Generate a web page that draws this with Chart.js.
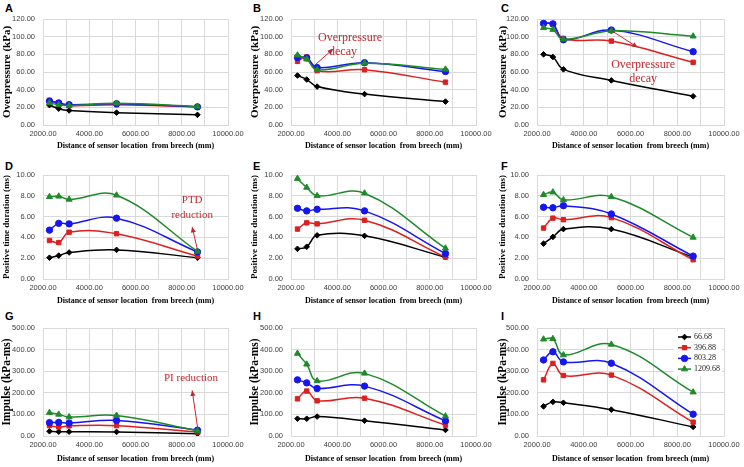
<!DOCTYPE html>
<html>
<head>
<meta charset="utf-8">
<script src="https://cdn.jsdelivr.net/npm/chart.js@4.4.0/dist/chart.umd.min.js"></script>
<style>
  body { margin: 0; background: #fff; width: 744px; height: 467px; position: relative; overflow: hidden; }
  canvas { position: absolute; }
  .tag { position: absolute; font: bold 11px "Liberation Sans", Arial, sans-serif; line-height: 12px; color: #000; }
</style>
</head>
<body>
<script>
"use strict";

// sensor positions (mm) and charge series
const distances = [2280, 2680, 3130, 5180, 8680];
const seriesNames = ['66.68', '396.88', '803.28', '1209.68'];
const xTicks = [2000, 4000, 6000, 8000, 10000];

// overpressure (kPa), rows = series
const overpressureA = [[22.5, 18.5, 16.5, 14.0, 11.5], [28.0, 24.5, 22.0, 23.0, 20.5], [27.0, 25.0, 23.0, 24.0, 20.5], [25.0, 23.0, 22.0, 24.5, 21.0]];
const overpressureB = [[56.0, 51.5, 43.5, 35.0, 26.5], [72.0, 77.0, 61.5, 62.5, 48.5], [76.5, 76.0, 65.0, 70.5, 60.5], [79.0, 74.5, 62.5, 70.0, 63.0]];
const overpressureC = [[80.0, 77.0, 63.0, 50.5, 32.5], [115.0, 114.0, 98.0, 95.0, 71.0], [115.0, 114.5, 96.5, 107.5, 83.0], [110.0, 108.0, 97.0, 106.5, 100.5]];

// positive time duration (ms)
const durationD = [[2.05, 2.25, 2.55, 2.80, 2.05], [3.70, 3.50, 4.50, 4.35, 2.20], [4.70, 5.35, 5.30, 5.85, 2.60], [7.90, 7.95, 7.65, 8.05, 2.65]];
const durationE = [[2.90, 3.10, 4.20, 4.15, 2.10], [4.80, 5.40, 5.30, 5.65, 2.10], [6.80, 6.55, 6.70, 6.55, 2.45], [9.65, 8.80, 8.00, 8.25, 2.95]];
const durationF = [[3.40, 4.05, 4.80, 4.80, 2.10], [4.90, 5.85, 5.70, 5.90, 1.85], [6.90, 6.85, 7.05, 6.25, 2.20], [8.10, 8.35, 7.60, 7.90, 4.00]];

// impulse (kPa-ms)
const impulseG = [[22, 20, 20, 19, 10], [48, 42, 47, 48, 18], [62, 63, 60, 72, 27], [108, 100, 88, 95, 24]];
const impulseH = [[80, 80, 90, 71, 28], [172, 208, 163, 175, 50], [260, 246, 220, 231, 70], [382, 332, 255, 290, 92]];
const impulseI = [[137, 158, 154, 122, 42], [260, 336, 280, 282, 64], [352, 390, 343, 337, 101], [448, 450, 375, 424, 203]];

const colors = ['#000000', '#dd1f1f', '#1616f0', '#1f8a2a'];
const markers = ['rectRot', 'rect', 'circle', 'triangle'];
const markerSize = [2.8, 3.1, 3.2, 3.5];
const noteRed = '#c0282d';

// red annotations, in data units: texts [x, y, text, size], arrows [x1, y1, x2, y2]
const panelNotes = {
  B: { texts: [[4550, 98.5, 'Overpressure', 12], [4250, 83, 'decay', 12]], arrows: [[3040, 68, 3820, 86]] },
  C: { texts: [[6540, 68, 'Overpressure', 12], [6540, 52.5, 'decay', 12]], arrows: [[5180, 107, 6300, 88]] },
  D: { texts: [[8450, 7.6, 'PTD', 11], [8450, 6.15, 'reduction', 11]], arrows: [[8700, 2.6, 8450, 5.0]] },
  G: { texts: [[8400, 266, 'PI reduction', 11]], arrows: [[8700, 28, 8450, 211]] }
};

const rows = [
  { boxY: 0, boxH: 150, top: 19, bottom: 125, title: 'Overpressure (kPa)', tSize: 11, tPad: 1.5, max: 120, step: 20, padB: 0 },
  { boxY: 150, boxH: 155, top: 175, bottom: 279, title: 'Positive time duration (ms)', tSize: 9, tPad: 2.5, max: 10, step: 2, padB: 0 },
  { boxY: 305, boxH: 162, top: 328, bottom: 436, title: 'Impulse (kPa-ms)', tSize: 11.5, tPad: 1.2, max: 500, step: 100, padB: 4 }
];
const cols = [
  { boxX: 0, left: 43, right: 228 },
  { boxX: 248, left: 291, right: 476 },
  { boxX: 496, left: 537, right: 724 }
];

const panels = [
  ['A', overpressureA], ['B', overpressureB], ['C', overpressureC],
  ['D', durationD], ['E', durationE], ['F', durationF],
  ['G', impulseG], ['H', impulseH], ['I', impulseI]
];

const notesPlugin = {
  id: 'notes',
  afterDatasetsDraw(chart) {
    const n = panelNotes[chart.canvas.id];
    if (!n) return;
    const { ctx, scales: { x, y } } = chart;
    ctx.save();
    ctx.strokeStyle = noteRed;
    ctx.fillStyle = noteRed;
    ctx.lineWidth = 1;
    n.arrows.forEach(a => {
      const x1 = x.getPixelForValue(a[0]), y1 = y.getPixelForValue(a[1]);
      const x2 = x.getPixelForValue(a[2]), y2 = y.getPixelForValue(a[3]);
      ctx.beginPath(); ctx.moveTo(x1, y1); ctx.lineTo(x2, y2); ctx.stroke();
      const ang = Math.atan2(y2 - y1, x2 - x1);
      ctx.beginPath();
      ctx.moveTo(x2, y2);
      ctx.lineTo(x2 - 6 * Math.cos(ang - 0.45), y2 - 6 * Math.sin(ang - 0.45));
      ctx.lineTo(x2 - 6 * Math.cos(ang + 0.45), y2 - 6 * Math.sin(ang + 0.45));
      ctx.closePath(); ctx.fill();
    });
    ctx.textAlign = 'center';
    ctx.textBaseline = 'middle';
    n.texts.forEach(t => {
      ctx.font = t[3] + 'px "Liberation Serif", "Times New Roman", serif';
      ctx.fillText(t[2], x.getPixelForValue(t[0]), y.getPixelForValue(t[1]));
    });
    ctx.restore();
  }
};

// legend only sits inside panel I
const legendPlugin = {
  id: 'boxLegend',
  afterDraw(chart) {
    if (chart.canvas.id !== 'I') return;
    const ctx = chart.ctx;
    ctx.save();
    ctx.fillStyle = '#fff';
    ctx.fillRect(178, 26, 48, 45);
    ctx.font = '8px "Liberation Serif", "Times New Roman", serif';
    ctx.textBaseline = 'middle';
    chart.data.datasets.forEach((ds, i) => {
      const yy = 32 + i * 10.7;
      ctx.strokeStyle = ds.borderColor;
      ctx.fillStyle = ds.borderColor;
      ctx.lineWidth = 1.5;
      ctx.beginPath(); ctx.moveTo(182, yy); ctx.lineTo(195, yy); ctx.stroke();
      ctx.lineWidth = 1;
      Chart.helpers.drawPoint(ctx, { pointStyle: ds.pointStyle, radius: ds.pointRadius, borderWidth: 1, rotation: 0 }, 188.5, yy);
      ctx.fillStyle = '#222';
      ctx.fillText(ds.label, 198, yy);
    });
    ctx.restore();
  }
};

panels.forEach(([name, values], idx) => {
  const row = rows[Math.floor(idx / 3)];
  const col = cols[idx % 3];

  const tag = document.createElement('div');
  tag.className = 'tag';
  tag.textContent = name;
  tag.style.left = (col.boxX + 5) + 'px';
  tag.style.top = (row.boxY + (idx < 3 ? 2 : idx < 6 ? 10 : 5)) + 'px';
  document.body.appendChild(tag);

  const canvas = document.createElement('canvas');
  canvas.id = name;
  canvas.width = 248;
  canvas.height = row.boxH;
  canvas.style.left = col.boxX + 'px';
  canvas.style.top = row.boxY + 'px';
  document.body.appendChild(canvas);

  const datasets = values.map((vals, i) => ({
    label: seriesNames[i],
    data: distances.map((d, j) => ({ x: d, y: vals[j] })),
    borderColor: colors[i],
    backgroundColor: colors[i],
    pointStyle: markers[i],
    pointRadius: markerSize[i],
    pointBorderWidth: 1,
    borderWidth: 1.5,
    tension: 0.4,
    order: 3 - i
  }));

  new Chart(canvas, {
    type: 'line',
    data: { datasets },
    plugins: [notesPlugin, legendPlugin],
    options: {
      responsive: false,
      animation: false,
      devicePixelRatio: 1,
      layout: {
        padding: { left: 0, top: row.top - row.boxY, right: col.boxX + 248 - col.right, bottom: row.padB }
      },
      plugins: { legend: { display: false }, tooltip: { enabled: false } },
      scales: {
        x: {
          type: 'linear',
          min: 2000,
          max: 10000,
          afterFit: s => { s.height = row.boxY + row.boxH - row.padB - row.bottom; },
          ticks: {
            stepSize: 1000,
            autoSkip: false,
            maxRotation: 0,
            minRotation: 0,
            padding: 4,
            color: '#404040',
            font: { family: '"Liberation Sans", Arial, sans-serif', size: 7.5 },
            callback: v => (xTicks.includes(v) ? v.toFixed(2) : '')
          },
          grid: { color: '#d9d9d9', drawTicks: false },
          border: { color: '#d9d9d9' },
          title: {
            display: true,
            text: 'Distance of sensor location  from breech (mm)',
            color: '#000',
            padding: { top: 0, bottom: 0 },
            font: { family: '"Liberation Serif", "Times New Roman", serif', size: 8, weight: 'bold', lineHeight: 1 }
          }
        },
        y: {
          min: 0,
          max: row.max,
          afterFit: s => { s.width = col.left - col.boxX; },
          ticks: {
            stepSize: row.step,
            padding: 8,
            color: '#404040',
            font: { family: '"Liberation Sans", Arial, sans-serif', size: 7.5 },
            callback: v => v.toFixed(2)
          },
          grid: { color: '#d9d9d9', drawTicks: false },
          border: { color: '#d9d9d9' },
          title: {
            display: true,
            text: row.title,
            color: '#000',
            padding: { top: row.tPad, bottom: 0 },
            font: { family: '"Liberation Serif", "Times New Roman", serif', size: row.tSize, weight: 'bold', lineHeight: 1 }
          }
        }
      }
    }
  });
});
</script>
</body>
</html>
